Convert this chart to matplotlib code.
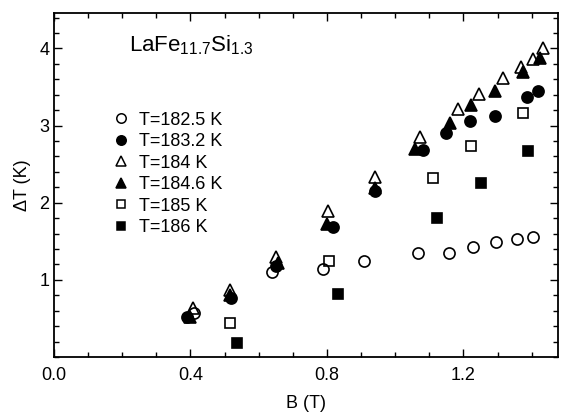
import matplotlib
matplotlib.use("Agg")
import matplotlib.pyplot as plt
from matplotlib.lines import Line2D

plt.rcParams['font.family'] = ['Liberation Sans', 'DejaVu Sans']
plt.rcParams['mathtext.fontset'] = 'custom'
plt.rcParams['mathtext.rm'] = 'Liberation Sans'
plt.rcParams['mathtext.it'] = 'Liberation Sans'

# T = 182.5 K (open circles)
b_1825 = [0.41, 0.638, 0.787, 0.909, 1.067, 1.158, 1.227, 1.295, 1.356, 1.404]
dt_1825 = [0.57, 1.10, 1.14, 1.25, 1.35, 1.35, 1.42, 1.49, 1.53, 1.56]
# T = 183.2 K (filled circles)
b_1832 = [0.39, 0.52, 0.65, 0.818, 0.94, 1.082, 1.15, 1.219, 1.292, 1.385, 1.419]
dt_1832 = [0.52, 0.77, 1.18, 1.68, 2.15, 2.69, 2.91, 3.06, 3.13, 3.37, 3.45]
# T = 184 K (open triangles)
b_184 = [0.408, 0.516, 0.652, 0.804, 0.94, 1.072, 1.185, 1.246, 1.317, 1.370, 1.404, 1.432]
dt_184 = [0.63, 0.87, 1.30, 1.89, 2.34, 2.85, 3.21, 3.41, 3.62, 3.76, 3.86, 4.01]
# T = 184.6 K (filled triangles)
b_1846 = [0.40, 0.515, 0.655, 0.80, 0.94, 1.058, 1.16, 1.223, 1.292, 1.375, 1.424]
dt_1846 = [0.52, 0.80, 1.22, 1.72, 2.19, 2.70, 3.03, 3.27, 3.45, 3.70, 3.88]
# T = 185 K (open squares)
b_185 = [0.517, 0.807, 1.111, 1.223, 1.375]
dt_185 = [0.44, 1.24, 2.32, 2.74, 3.16]
# T = 186 K (filled squares)
b_186 = [0.537, 0.831, 1.121, 1.251, 1.39]
dt_186 = [0.18, 0.82, 1.80, 2.25, 2.67]

labels = ['T=182.5 K', 'T=183.2 K', 'T=184 K', 'T=184.6 K', 'T=185 K', 'T=186 K']
x_ticks = [0.0, 0.4, 0.8, 1.2]
x_ticklabels = ['0.0', '0.4', '0.8', '1.2']
y_ticks = [1, 2, 3, 4]
y_ticklabels = ['1', '2', '3', '4']

fig = plt.figure(figsize=(5.61, 4.2), dpi=100)
ax = fig.add_axes([54/561, 1 - 357/420, 504/561, 344/420])

series = [
    (b_1825, dt_1825, 'o', 'none', 8.0),
    (b_1832, dt_1832, 'o', 'black', 8.0),
    (b_184, dt_184, '^', 'none', 8.5),
    (b_1846, dt_1846, '^', 'black', 8.5),
    (b_185, dt_185, 's', 'none', 7.0),
    (b_186, dt_186, 's', 'black', 7.0),
]
handles = []
for (bx, dy, m, fc, ms), lab in zip(series, labels):
    ax.plot(bx, dy, linestyle='none', marker=m, markerfacecolor=fc,
            markeredgecolor='black', markeredgewidth=1.2, markersize=ms)
    handles.append(Line2D([], [], linestyle='none', marker=m, markerfacecolor=fc,
                          markeredgecolor='black', markeredgewidth=1.1,
                          markersize=ms * 0.85, label=lab))

ax.set_xlim(0, 1.477)
ax.set_ylim(0, 4.46)
ax.set_xticks(x_ticks)
ax.set_xticklabels(x_ticklabels)
ax.set_yticks(y_ticks)
ax.set_yticklabels(y_ticklabels)
ax.set_xticks([i * 0.1 for i in range(15)], minor=True)
ax.set_yticks([i * 0.2 for i in range(23)], minor=True)
ax.tick_params(which='both', direction='in', top=True, right=True, labelsize=13, width=1.0)
ax.tick_params(axis='x', which='major', pad=7)
ax.tick_params(which='major', length=6)
ax.tick_params(which='minor', length=3.5)
for s in ax.spines.values():
    s.set_linewidth(1.3)

ax.set_xlabel('B (T)', fontsize=13, labelpad=8)
ax.set_ylabel('ΔT (K)', fontsize=13, labelpad=6)

ax.text(0.148, 0.905, r'LaFe$_{11.7}$Si$_{1.3}$', transform=ax.transAxes, fontsize=16,
        ha='left', va='center')

ax.legend(handles=handles, loc='upper left', bbox_to_anchor=(0.09, 0.75), frameon=False,
          fontsize=13, handlelength=1.0, handletextpad=0.5, labelspacing=0.25,
          borderpad=0.2)

fig.savefig('out.png', dpi=100)
